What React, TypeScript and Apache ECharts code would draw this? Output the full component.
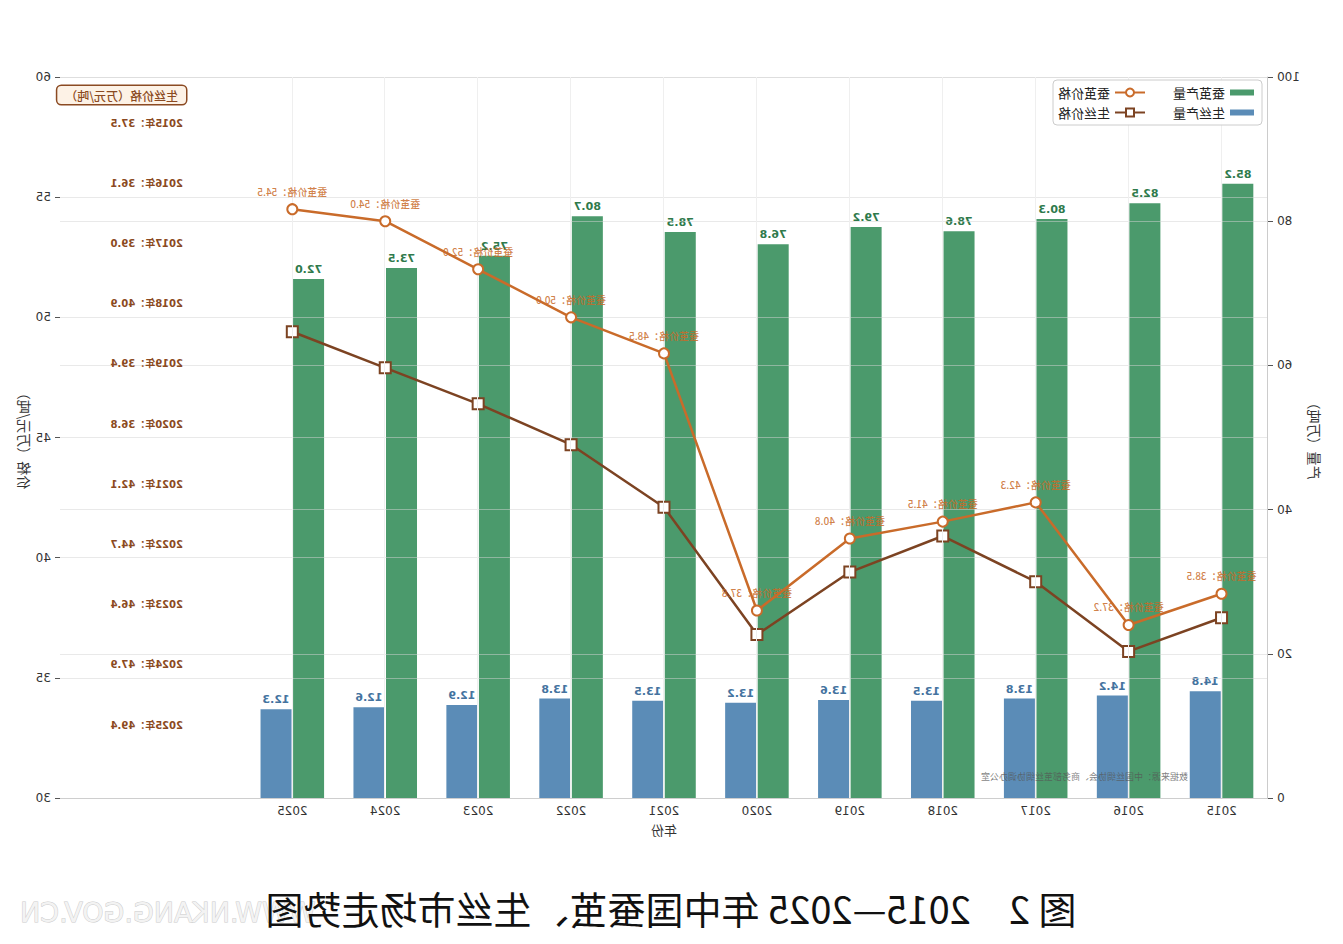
import * as echarts from 'echarts'
import type { EChartsOption } from 'echarts'
import { useEffect, useRef } from 'react'

const years = ['2015', '2016', '2017', '2018', '2019', '2020', '2021', '2022', '2023', '2024', '2025']
// two empty bands on the right hold the silk price list
const axisCategories = [...years, ' ', '  ']

const cocoonOutput = [85.2, 82.5, 80.3, 78.6, 79.2, 76.8, 78.5, 80.7, 75.2, 73.5, 72.0]
const silkOutput = [14.8, 14.2, 13.8, 13.5, 13.6, 13.2, 13.5, 13.8, 12.9, 12.6, 12.3]
const cocoonPrice = [38.5, 37.2, 42.3, 41.5, 40.8, 37.8, 48.5, 50.0, 52.0, 54.0, 54.5]
const silkPrice = [37.5, 36.1, 39.0, 40.9, 39.4, 36.8, 42.1, 44.7, 46.4, 47.9, 49.4]

const outputTicks = { min: 0, max: 100, interval: 20 }
const priceTicks = { min: 30, max: 60, interval: 5 }

const colors = {
  cocoonBar: '#4b9a6c',
  cocoonBarLabel: '#2f7a4c',
  silkBar: '#5b8cb7',
  silkBarLabel: '#44739f',
  cocoonLine: '#c96b2a',
  silkLine: '#7c4322',
  text: '#333333',
  grid: 'rgba(212, 212, 212, 0.5)',
}

const font = 'DejaVu Sans, Noto Sans CJK SC, sans-serif'
const cjkFont = 'Noto Sans CJK SC, DejaVu Sans, sans-serif'

const size = { width: 1343, height: 944 }
const grid = { left: 75, right: 60, top: 77, bottom: 146 }

const barIcon = 'path://M0,0h24v6h-24z'

function buildOption(): EChartsOption {
  const onYears = (index: number) => index < years.length
  const legendText = { fontSize: 13, color: '#222', fontFamily: cjkFont }

  return {
    animation: false,
    backgroundColor: '#ffffff',
    textStyle: { fontFamily: font },
    grid: { ...grid, containLabel: false },
    legend: [
      {
        data: [
          { name: '蚕茧产量', icon: barIcon },
          { name: '生丝产量', icon: barIcon },
        ],
        orient: 'vertical',
        left: 84,
        top: 81,
        itemWidth: 24,
        itemHeight: 10,
        itemGap: 7,
        z: 10,
        textStyle: legendText,
      },
      {
        data: ['蚕茧价格', '生丝价格'],
        orient: 'vertical',
        left: 192,
        top: 81,
        itemWidth: 30,
        itemHeight: 10,
        itemGap: 7,
        z: 10,
        textStyle: legendText,
      },
    ],
    xAxis: {
      type: 'category',
      data: axisCategories,
      boundaryGap: true,
      name: '年份',
      nameLocation: 'middle',
      nameGap: 25,
      nameTextStyle: { fontSize: 13, color: colors.text, fontFamily: cjkFont },
      axisLine: { lineStyle: { color: '#bdbdbd', width: 1.2 } },
      axisTick: { alignWithLabel: true, interval: onYears, length: 4, lineStyle: { color: '#555' } },
      axisLabel: { interval: 0, fontSize: 12, color: colors.text, margin: 7 },
      splitLine: { show: false },
    },
    yAxis: [
      {
        type: 'value',
        position: 'left',
        ...outputTicks,
        name: '产量（万吨）',
        nameLocation: 'middle',
        nameRotate: 90,
        nameGap: 40,
        nameMoveOverlap: false,
        nameTextStyle: { fontSize: 14, color: colors.text, fontFamily: cjkFont },
        z: 3,
        axisLine: { show: true, lineStyle: { color: '#cccccc' } },
        axisTick: { show: true, length: 5, lineStyle: { color: '#555' } },
        axisLabel: { fontSize: 12, color: colors.text, margin: 9 },
        splitLine: { show: true, lineStyle: { color: colors.grid, width: 1 } },
      },
      {
        type: 'value',
        position: 'right',
        ...priceTicks,
        name: '价格（万元/吨）',
        nameLocation: 'middle',
        nameRotate: 90,
        nameGap: 28,
        nameMoveOverlap: false,
        nameTextStyle: { fontSize: 14, color: colors.text, fontFamily: cjkFont },
        z: 3,
        axisLine: { show: false },
        axisTick: { show: true, length: 5, lineStyle: { color: '#555' } },
        axisLabel: { fontSize: 12, color: colors.text, margin: 9 },
        splitLine: { show: true, lineStyle: { color: colors.grid, width: 1 } },
      },
    ],
    series: [
      {
        name: '蚕茧产量',
        type: 'bar',
        yAxisIndex: 0,
        data: cocoonOutput,
        barWidth: 31,
        barGap: '5%',
        itemStyle: { color: colors.cocoonBar },
        label: {
          show: true,
          position: 'top',
          distance: 4,
          fontSize: 11,
          fontWeight: 'bold',
          color: colors.cocoonBarLabel,
          formatter: (p: any) => Number(p.value).toFixed(1),
        },
      },
      {
        name: '生丝产量',
        type: 'bar',
        yAxisIndex: 0,
        data: silkOutput,
        barWidth: 31,
        barGap: '5%',
        itemStyle: { color: colors.silkBar },
        label: {
          show: true,
          position: 'top',
          distance: 4,
          fontSize: 11,
          fontWeight: 'bold',
          color: colors.silkBarLabel,
          formatter: (p: any) => Number(p.value).toFixed(1),
        },
      },
      {
        name: '蚕茧价格',
        type: 'line',
        yAxisIndex: 1,
        data: cocoonPrice,
        z: 5,
        symbol: 'circle',
        symbolSize: 10,
        lineStyle: { color: colors.cocoonLine, width: 2.5 },
        itemStyle: { color: '#ffffff', borderColor: colors.cocoonLine, borderWidth: 2 },
        label: {
          show: true,
          position: 'top',
          distance: 7,
          fontSize: 10,
          fontWeight: 500,
          color: colors.cocoonLine,
          opacity: 0.85,
          fontFamily: cjkFont,
          formatter: (p: any) => `蚕茧价格：${Number(p.value).toFixed(1)}`,
        },
      },
      {
        name: '生丝价格',
        type: 'line',
        yAxisIndex: 1,
        data: silkPrice,
        z: 4,
        symbol: 'rect',
        symbolSize: 11,
        lineStyle: { color: colors.silkLine, width: 2.5 },
        itemStyle: { color: '#ffffff', borderColor: colors.silkLine, borderWidth: 2 },
      },
      {
        // vertical guides at the year ticks
        name: 'guides',
        type: 'line',
        data: [],
        z: 1,
        silent: true,
        markLine: {
          silent: true,
          symbol: ['none', 'none'],
          label: { show: false },
          lineStyle: { color: '#efefef', type: 'solid', width: 1 },
          data: years.map((year) => ({ xAxis: year })),
        },
      },
    ],
    graphic: [
      {
        type: 'rect',
        z: 8,
        shape: { x: 81, y: 80, width: 209, height: 45, r: 4 },
        style: { fill: 'rgba(255,255,255,0.9)', stroke: '#cccccc', lineWidth: 1 },
      },
      {
        type: 'text',
        z: 10,
        x: 1157,
        y: 95,
        style: {
          text: '生丝价格（万元/吨）',
          fill: '#8b4a22',
          fontSize: 12,
          fontWeight: 500,
          fontFamily: cjkFont,
          align: 'left',
          verticalAlign: 'middle',
          backgroundColor: '#fdf2e6',
          borderColor: '#8b4a22',
          borderWidth: 1.5,
          borderRadius: 4,
          padding: [3, 8],
        },
      },
      ...years.map((year, i) => ({
        type: 'text' as const,
        z: 10,
        x: 1160,
        y: 123 + i * 60.2,
        style: {
          text: `${year}年：${silkPrice[i].toFixed(1)}`,
          fill: '#8b4a22',
          fontSize: 10,
          fontWeight: 'bold' as const,
          fontFamily: font,
          align: 'left' as const,
          verticalAlign: 'middle' as const,
        },
      })),
      {
        type: 'text',
        z: 10,
        x: 155,
        y: 776,
        style: {
          text: '数据来源：中国丝绸协会、商务部茧丝绸协调办公室',
          fill: 'rgba(85,85,85,0.75)',
          fontSize: 9,
          fontFamily: cjkFont,
          align: 'left',
          verticalAlign: 'middle',
        },
      },
      {
        type: 'text',
        z: 9,
        x: 1323,
        y: 912,
        style: {
          text: 'WWW.NKANG.GOV.CN',
          fill: '#f3f3f3',
          stroke: '#cccccc',
          lineWidth: 1,
          fontSize: 27,
          fontFamily: font,
          align: 'right',
          verticalAlign: 'middle',
        },
      },
      {
        type: 'text',
        z: 11,
        x: 672,
        y: 907,
        style: {
          text: '图 2　2015—2025 年中国蚕茧、生丝市场走势图',
          fill: '#111111',
          fontSize: 38,
          fontFamily: cjkFont,
          align: 'center',
          verticalAlign: 'middle',
        },
      },
    ],
  }
}

export default function App() {
  const chartRef = useRef<HTMLDivElement>(null)

  useEffect(() => {
    const element = chartRef.current
    if (!element) return
    const instance = echarts.init(element, null, { renderer: 'svg' })
    instance.setOption(buildOption())
    return () => instance.dispose()
  }, [])

  // the reference is a mirrored picture, so the chart is flipped as a whole
  return (
    <div
      style={{
        position: 'absolute',
        left: 0,
        top: 0,
        width: size.width,
        height: size.height,
        background: '#ffffff',
        transform: 'scaleX(-1)',
      }}
    >
      <div ref={chartRef} style={{ width: size.width, height: size.height }} />
    </div>
  )
}
